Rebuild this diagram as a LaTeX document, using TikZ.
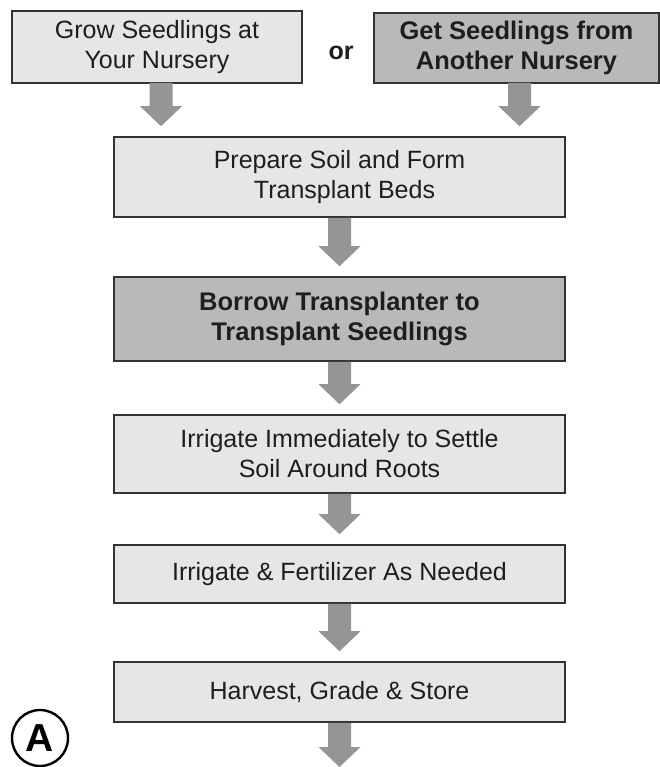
\documentclass[tikz,border=0pt]{standalone}
\usepackage{fontspec}
\setmainfont{Liberation Sans}
\usetikzlibrary{calc}
\definecolor{lightbox}{HTML}{E6E6E6}
\definecolor{darkbox}{HTML}{B9B9B9}
\definecolor{arrowgray}{HTML}{959595}
\definecolor{edgegray}{HTML}{333333}
\definecolor{txt}{HTML}{1E1E1E}
\tikzset{
  box/.style={draw=edgegray, line width=1.6pt, fill=lightbox, inner sep=0pt,
    align=center, text=txt, font=\fontsize{25}{30}\selectfont},
  darkstep/.style={box, fill=darkbox, font=\bfseries\fontsize{25.5}{30}\selectfont},
  fatarrow/.style={to path={
    let \p1=(\tikztostart), \p2=(\tikztotarget) in
    (\x1-11.5pt,\y1) -- (\x1-11.5pt,\y2+30pt) -- (\x1-21pt,\y2+30pt) -- (\x1,\y2+10pt)
    -- (\x1+21pt,\y2+30pt) -- (\x1+11.5pt,\y2+30pt) -- (\x1+11.5pt,\y1) -- cycle}},
  arr/.style={fill=arrowgray}
}
\begin{document}
\begin{tikzpicture}[x=1pt,y=-1pt]
\useasboundingbox (0,0) rectangle (660,767);
\fill[white] (0,0) rectangle (660,767);
% boxes
\node[box, minimum width=290pt, minimum height=72pt] (b1) at (157,47) {Grow Seedlings at\\Your Nursery};
\node[darkstep, minimum width=285pt, minimum height=70pt] (b2) at (516.5,48) {Get Seedlings from\\Another Nursery};
\node[font=\bfseries\fontsize{25}{30}\selectfont, text=txt] (or) at (341,53) {or};
\node[box, minimum width=451pt, minimum height=80pt] (b3) at (339.5,177) {Prepare Soil and Form\\\hspace*{10pt}Transplant Beds};
\node[darkstep, minimum width=451pt, minimum height=84pt] (b4) at (339.5,319) {Borrow Transplanter to\\Transplant Seedlings};
\node[box, minimum width=451pt, minimum height=78pt] (b5) at (339.5,454) {Irrigate Immediately to Settle\\Soil Around Roots};
\node[box, minimum width=451pt, minimum height=58pt] (b6) at (339.5,574) {Irrigate \& Fertilizer As Needed};
\node[box, minimum width=451pt, minimum height=60pt] (b7) at (339.5,692) {Harvest, Grade \& Store};
\coordinate (end) at (339.5,777);
% circled label
\node[draw=black, line width=2.4pt, circle, minimum size=56pt, inner sep=0pt,
  font=\bfseries\fontsize{39}{39}\selectfont] (lbl) at (40,738) {A};
% arrows
\path[arr] ($(b1.south)+(4,-1)$) to[fatarrow] (b3.north);
\path[arr] ($(b2.south)+(3,-1)$) to[fatarrow] (b3.north);
\path[arr] (b3.south) to[fatarrow] (b4.north);
\path[arr] (b4.south) to[fatarrow] (b5.north);
\path[arr] (b5.south) to[fatarrow] (b6.north);
\path[arr] (b6.south) to[fatarrow] (b7.north);
\path[arr] (b7.south) to[fatarrow] (end);
\end{tikzpicture}
\end{document}
